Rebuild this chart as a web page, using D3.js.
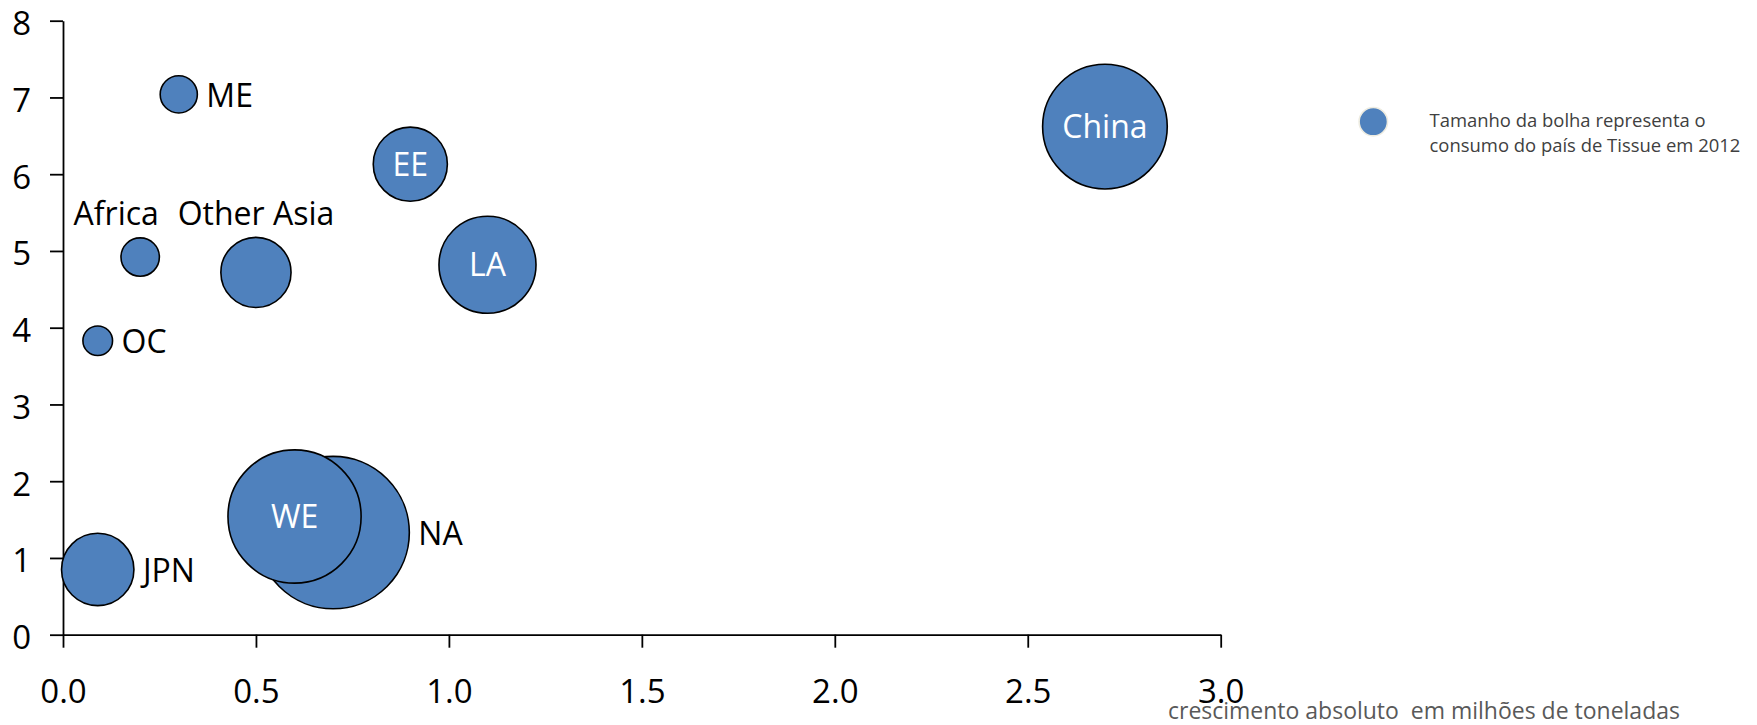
<!DOCTYPE html>
<html>
<head>
<meta charset="utf-8">
<script src="https://cdn.jsdelivr.net/npm/d3@7/dist/d3.min.js"></script>
<style>
  html, body { margin: 0; padding: 0; background: #ffffff; }
  svg { display: block; }
  text { font-family: "Open Sans", "Noto Sans", sans-serif; }
</style>
</head>
<body>
<svg id="chart" width="1757" height="725"></svg>
<script>
// ---- data ----
const regions     = ["NA", "WE", "China", "LA", "EE", "JPN", "Other Asia", "Africa", "ME", "OC"];
const growth      = [0.70, 0.60, 2.70, 1.10, 0.90, 0.09, 0.50, 0.20, 0.30, 0.09];   // x: crescimento absoluto (milhões t)
const growthRate  = [1.33, 1.54, 6.62, 4.82, 6.13, 0.85, 4.72, 4.92, 7.04, 3.83];   // y
const consumption = [7.40, 5.65, 4.95, 3.00, 1.75, 1.67, 1.57, 0.47, 0.44, 0.28];   // bubble size (2012)
const labelPlace  = ["right", "inside", "inside", "inside", "inside", "right", "above", "aboveLeft", "right", "right"];
const xTicks = [0, 0.5, 1.0, 1.5, 2.0, 2.5, 3.0];
const yTicks = [0, 1, 2, 3, 4, 5, 6, 7, 8];
const xTitle = "crescimento absoluto\u00a0 em milhões de toneladas";
const legendLines = ["Tamanho da bolha representa o", "consumo do país de Tissue em 2012"];

const data = regions.map((r, i) => ({
  name: r, x: growth[i], y: growthRate[i], size: consumption[i], place: labelPlace[i]
}));

// ---- layout ----
const svg = d3.select("#chart");
const x = d3.scaleLinear().domain([0, 3]).range([63, 1220.7]);
const y = d3.scaleLinear().domain([0, 8]).range([634.7, 20.7]);
const r = d3.scaleSqrt().domain([0, d3.max(consumption)]).range([0, 76.2]);
const blue = "#4f81bd";

// axes
const yAxis = d3.axisLeft(y).tickValues(yTicks).tickFormat(d3.format("d"))
  .tickSize(13).tickSizeOuter(0).tickPadding(19);
const xAxis = d3.axisBottom(x).tickValues(xTicks).tickFormat(d3.format(".1f"))
  .tickSize(13).tickSizeOuter(0).tickPadding(32);

const gy = svg.append("g").attr("transform", `translate(${x(0)},0)`).call(yAxis);
const gx = svg.append("g").attr("transform", `translate(0,${y(0)})`).call(xAxis);
[gx, gy].forEach(g => {
  g.selectAll("path.domain").attr("stroke", "#000").attr("stroke-width", 1.8);
  g.selectAll(".tick line").attr("stroke", "#000").attr("stroke-width", 1.8);
  g.selectAll(".tick text").attr("fill", "#000")
    .style("font-family", '"Open Sans", sans-serif').style("font-size", "33px");
});
gy.selectAll(".tick text").attr("dy", "0.42em");

// bubbles (largest drawn first)
const sorted = data.slice().sort((a, b) => b.size - a.size);
svg.append("g").selectAll("circle").data(sorted).join("circle")
  .attr("cx", d => x(d.x)).attr("cy", d => y(d.y)).attr("r", d => r(d.size))
  .attr("fill", blue).attr("stroke", "#000").attr("stroke-width", 1.6);

// labels
const lab = svg.append("g").style("font-size", "32px");
data.forEach(d => {
  const cx = x(d.x), cy = y(d.y), rr = r(d.size);
  const t = lab.append("text").text(d.name);
  if (d.place === "inside") {
    t.attr("x", cx).attr("y", cy).attr("dy", "0.36em").attr("text-anchor", "middle").attr("fill", "#ffffff");
  } else if (d.place === "right") {
    t.attr("x", cx + rr + 9).attr("y", cy).attr("dy", "0.38em").attr("text-anchor", "start").attr("fill", "#000");
  } else if (d.place === "above") {
    t.attr("x", cx).attr("y", cy - rr - 12).attr("text-anchor", "middle").attr("fill", "#000");
  } else if (d.place === "aboveLeft") {
    t.attr("x", cx - 24).attr("y", cy - rr - 13).attr("text-anchor", "middle").attr("fill", "#000");
  }
});

// x axis title
const xt = svg.append("text").attr("x", 1168).attr("y", 719)
  .attr("fill", "#595959").style("font-size", "22px").text(xTitle);
{
  const w = xt.node().getComputedTextLength();
  xt.style("font-size", (22 * 512 / w).toFixed(2) + "px");
}

// legend
const lg = svg.append("g");
lg.append("circle").attr("cx", 1373.3).attr("cy", 121.7).attr("r", 14.2)
  .attr("fill", blue).attr("stroke", "#eeece1").attr("stroke-width", 1.6);
const lt = lg.selectAll("text").data(legendLines).join("text")
  .attr("x", 1429.5).attr("y", (d, i) => 126.7 + i * 25)
  .attr("fill", "#404040").style("font-size", "19px").text(d => d);
{
  const w = lt.nodes()[1].getComputedTextLength();
  lt.style("font-size", (19 * 311 / w).toFixed(2) + "px");
}
</script>
</body>
</html>
